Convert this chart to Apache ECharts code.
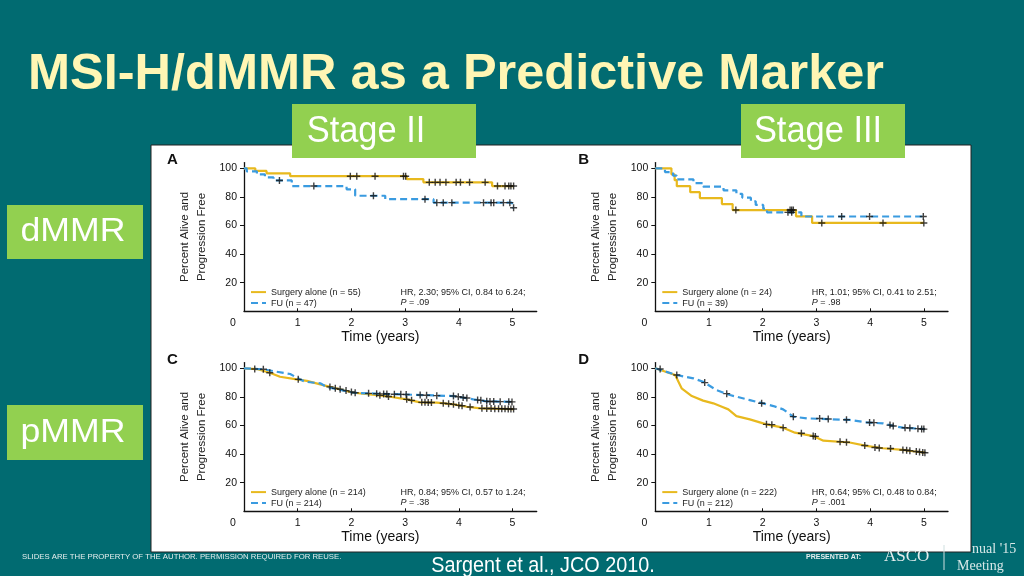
<!DOCTYPE html>
<html><head><meta charset="utf-8">
<script src="https://cdn.jsdelivr.net/npm/echarts@6/dist/echarts.min.js"></script>
<style>html,body{margin:0;padding:0;background:#016b71}#c{width:1024px;height:576px}</style>
</head><body><div id="c"></div>
<script>
// ---------- data ----------
const xTicks = [0, 1, 2, 3, 4, 5];
const yTicks = [20, 40, 60, 80, 100];
const panelLetters = ['A', 'B', 'C', 'D'];
const surgeryNames = ['Surgery alone (n = 55)', 'Surgery alone (n = 24)', 'Surgery alone (n = 214)', 'Surgery alone (n = 222)'];
const fuNames = ['FU (n = 47)', 'FU (n = 39)', 'FU (n = 214)', 'FU (n = 212)'];
const hrTexts = ['HR, 2.30; 95% CI, 0.84 to 6.24;', 'HR, 1.01; 95% CI, 0.41 to 2.51;', 'HR, 0.84; 95% CI, 0.57 to 1.24;', 'HR, 0.64; 95% CI, 0.48 to 0.84;'];
const pTexts = ['.09', '.98', '.38', '.001'];
const stepped = [true, true, false, false];

// Panel A: dMMR, stage II
const A_surgery = [[0,100],[0.21,98.2],[0.42,96.4],[0.86,94.5],[3.03,92.5],[3.34,90.2],[4.62,87.6],[5.02,87.6]];
const A_surgeryCens = [[1.98,94.5],[2.10,94.5],[2.44,94.5],[2.97,94.5],[3.01,94.5],[3.45,90.2],[3.56,90.2],[3.65,90.2],[3.76,90.2],[3.95,90.2],[4.03,90.2],[4.20,90.2],[4.49,90.2],[4.72,87.6],[4.86,87.6],[4.93,87.6],[4.97,87.6],[5.02,87.6]];
const A_fu = [[0,100],[0.05,97.9],[0.24,95.7],[0.39,93.6],[0.55,91.5],[0.89,87.6],[1.91,85.3],[2.07,80.8],[2.63,78.4],[3.53,76.0],[4.99,72.4],[5.02,72.4]];
const A_fuCens = [[0.66,91.5],[1.30,87.6],[2.41,80.8],[3.37,78.4],[3.59,76],[3.71,76],[3.87,76],[4.46,76],[4.60,76],[4.65,76],[4.83,76],[4.95,76],[5.02,72.4]];

// Panel B: dMMR, stage III
const B_surgery = [[0,100],[0.30,95.8],[0.36,91.7],[0.40,87.5],[0.65,83.3],[0.83,79.2],[1.24,75.0],[1.44,70.8],[2.62,66.4],[2.92,61.8],[5.0,61.8]];
const B_surgeryCens = [[1.50,70.8],[2.51,70.8],[2.54,70.8],[2.57,70.8],[3.10,61.8],[4.24,61.8],[5.0,61.8]];
const B_fu = [[0,100],[0.18,97.4],[0.33,94.9],[0.40,92.3],[0.71,89.7],[0.89,87.2],[1.27,84.6],[1.51,82.1],[1.62,79.5],[1.78,76.9],[1.87,74.4],[2.01,71.8],[2.08,69.2],[2.72,66.3],[5.0,66.3]];
const B_fuCens = [[2.47,69.2],[2.54,69.2],[3.47,66.3],[3.99,66.3],[4.99,66.3]];

// Panel C: pMMR, stage II
const C_surgery = [[0,100],[0.24,99.5],[0.48,96.9],[0.67,94.1],[0.98,92.3],[1.17,91.2],[1.42,88.8],[1.60,87],[2.04,82.9],[2.53,81.1],[2.72,80.1],[3.03,78.3],[3.28,76.2],[3.59,76],[3.90,74.8],[4.15,73.1],[4.40,72],[5.02,71.5]];
const C_surgeryCens = [[0.20,99.5],[0.48,96.9],[1.01,92.3],[1.60,87],[1.70,86],[1.79,85.4],[1.90,84.4],[2.00,83.5],[2.07,82.9],[2.53,81.1],[2.69,80.3],[3.03,78.3],[3.12,77.6],[3.31,76.2],[3.37,76.2],[3.43,76.1],[3.49,76.1],[3.71,75.6],[3.81,75.2],[3.90,74.8],[4.00,74.1],[4.06,73.8],[4.21,72.9],[4.43,72.0],[4.52,71.9],[4.60,71.9],[4.67,71.8],[4.74,71.8],[4.80,71.7],[4.86,71.7],[4.92,71.6],[4.97,71.6],[5.02,71.5]];
const C_fu = [[0,100],[0.36,99.3],[0.61,97.6],[0.86,96],[1.04,92.3],[1.14,90.6],[1.42,89.5],[1.54,87],[2.04,82.9],[2.53,82.2],[3.15,81.5],[3.90,80.6],[4.27,78.3],[4.52,76.9],[5.02,76.5]];
const C_fuCens = [[0.36,99.3],[2.32,82.5],[2.47,82.3],[2.60,82.1],[2.66,82.1],[2.80,81.9],[2.92,81.8],[3.02,81.7],[3.28,81.3],[3.40,81.2],[3.59,80.9],[3.90,80.6],[3.99,80.1],[4.08,79.6],[4.15,79.2],[4.35,77.9],[4.41,77.6],[4.52,76.9],[4.58,76.8],[4.65,76.8],[4.77,76.7],[4.93,76.6],[4.99,76.5]];

// Panel D: pMMR, stage III
const D_surgery = [[0,100],[0.37,95.3],[0.49,86],[0.68,80.6],[0.89,77.4],[1.08,75.5],[1.24,73.1],[1.36,71.3],[1.51,66.6],[1.76,64.3],[2.07,60.8],[2.38,58.5],[2.60,55],[2.94,52.6],[3.13,49.4],[3.62,48.1],[3.93,45.8],[4.24,44.1],[4.61,42.9],[4.80,42],[5.02,41]];
const D_surgeryCens = [[0.09,99.5],[2.07,60.8],[2.17,60.6],[2.38,58.5],[2.72,54.6],[2.94,52.6],[2.98,52.4],[3.44,48.6],[3.56,48.3],[3.90,46],[4.09,44.6],[4.17,44.3],[4.38,43.9],[4.61,42.9],[4.68,42.7],[4.74,42.4],[4.86,41.8],[4.92,41.5],[4.98,41.2],[5.02,41]];
const D_fu = [[0,100],[0.40,95.3],[0.71,93],[0.89,90.6],[1.14,84.8],[1.39,81.3],[1.76,77.8],[2.20,73.6],[2.38,71.3],[2.57,66.2],[2.82,65],[3.62,63.9],[3.93,62.2],[4.24,61.5],[4.43,59.7],[4.61,58.5],[5.02,57.5]];
const D_fuCens = [[0.40,95.3],[0.92,90.0],[1.33,82.3],[1.98,75.6],[2.57,66.2],[3.06,64.9],[3.22,64.6],[3.56,64],[3.99,62.1],[4.07,62],[4.37,60.3],[4.43,59.7],[4.65,58.4],[4.74,58.3],[4.89,57.8],[4.96,57.6],[5.0,57.5]];

const surgeryData = [A_surgery, B_surgery, C_surgery, D_surgery];
const surgeryCens = [A_surgeryCens, B_surgeryCens, C_surgeryCens, D_surgeryCens];
const fuData = [A_fu, B_fu, C_fu, D_fu];
const fuCens = [A_fuCens, B_fuCens, C_fuCens, D_fuCens];

// ---------- layout ----------
const YELLOW = '#E8B91E', BLUE = '#3A9BE0', GREEN = '#92D050', BG = '#016b71';
const NARROW = "'Liberation Sans Narrow','Arial Narrow','Liberation Sans',sans-serif";
const SANS = "'Liberation Sans',Arial,sans-serif";
const SERIF = "'Liberation Serif','Times New Roman',serif";
const gridPos = [{left:244, top:162.6}, {left:655.3, top:162.6}, {left:244, top:362.6}, {left:655.3, top:362.6}];
const PLUS = 'path://M4,0H6V4H10V6H6V10H4V6H0V4H4Z';

const grids = [], xAxes = [], yAxes = [], series = [], legends = [], graphics = [];
gridPos.forEach((g, i) => {
  grids.push({left: g.left, top: g.top, width: 292.7, height: 148.7, containLabel: false});
  xAxes.push({
    type: 'value', gridIndex: i, min: 0, max: 5.45,
    axisLine: {lineStyle: {color: '#111', width: 1.3}},
    axisTick: {show: true, inside: true, length: 3, customValues: [1,2,3,4,5], lineStyle: {color: '#111'}},
    axisLabel: {customValues: xTicks, margin: 6, color: '#111', fontSize: 10.5, fontFamily: SANS,
      formatter: v => v === 0 ? '{z|0}' : String(v),
      rich: {z: {padding: [0, 22, 0, 0], fontSize: 10.5, color: '#111', fontFamily: SANS}}},
    splitLine: {show: false},
    name: 'Time (years)', nameLocation: 'middle', nameGap: 19,
    nameTextStyle: {fontSize: 14, color: '#111', fontFamily: SANS, padding: [0, 20, 0, 0]}
  });
  yAxes.push({
    type: 'value', gridIndex: i, min: 0, max: 104,
    axisLine: {show: true, lineStyle: {color: '#111', width: 1.3}},
    axisTick: {show: true, length: 4, customValues: yTicks, lineStyle: {color: '#111'}},
    axisLabel: {customValues: yTicks, margin: 7, color: '#111', fontSize: 10.5, fontFamily: SANS},
    splitLine: {show: false},
    name: 'Percent Alive and\nProgression Free', nameLocation: 'middle', nameRotate: 90, nameGap: 34,
    nameTextStyle: {fontSize: 11.5, lineHeight: 17, color: '#222', fontFamily: NARROW}
  });
  const step = stepped[i] ? 'end' : false;
  series.push({type: 'line', name: surgeryNames[i], xAxisIndex: i, yAxisIndex: i, data: surgeryData[i], step,
    symbol: 'none', lineStyle: {color: YELLOW, width: 2.2}, itemStyle: {color: YELLOW}, z: 2});
  series.push({type: 'line', name: fuNames[i], xAxisIndex: i, yAxisIndex: i, data: fuData[i], step,
    symbol: 'none', lineStyle: {color: BLUE, width: 2.2, type: [7, 4]}, itemStyle: {color: BLUE}, z: 3});
  [surgeryCens[i], fuCens[i]].forEach(c => series.push({type: 'scatter', xAxisIndex: i, yAxisIndex: i, data: c,
    symbol: PLUS, symbolSize: 7, itemStyle: {color: '#111'}, z: 4, silent: true}));
  legends.push({data: [surgeryNames[i], fuNames[i]], orient: 'vertical', left: g.left + 6, top: g.top + 125,
    padding: 0, itemWidth: 15, itemHeight: 8, itemGap: 2, selectedMode: false,
    itemStyle: {opacity: 0},
    textStyle: {fontSize: 9, color: '#222', fontFamily: SANS}});
  const px = g.left + 156.5;
  graphics.push({type: 'text', x: px, y: g.top + 129.5, style: {text: hrTexts[i], fontSize: 9, fill: '#222', fontFamily: SANS, verticalAlign: 'middle'}});
  graphics.push({type: 'text', x: px, y: g.top + 139.5, style: {text: '{i|P} = ' + pTexts[i], fontSize: 9, fill: '#222', fontFamily: SANS, verticalAlign: 'middle',
    rich: {i: {fontStyle: 'italic', fontSize: 9, fontFamily: SANS, fill: '#222'}}}});
  graphics.push({type: 'text', x: g.left - 77, y: g.top - 2.6, style: {text: panelLetters[i], font: 'bold 15px ' + SANS, fill: '#111', verticalAlign: 'middle'}});
});

// slide decoration
graphics.push(
  {type: 'rect', shape: {x: 151, y: 145, width: 820, height: 407}, z: -1, style: {fill: '#fff', stroke: '#222', lineWidth: 1}},
  {type: 'text', x: 955, y: 549, style: {text: "{h|An}nual '15", font: '14px ' + SERIF, fill: '#d8e8e8', verticalAlign: 'middle',
    rich: {h: {fill: 'rgba(0,0,0,0)', font: '14px ' + SERIF}}}},
  {type: 'text', x: 28, y: 75, style: {text: 'MSI-H/dMMR as a Predictive Marker', font: 'bold 50.5px ' + SANS, fill: '#FFF6B4', verticalAlign: 'middle'}},
  {type: 'rect', shape: {x: 292, y: 104, width: 184, height: 54}, z: 100, style: {fill: GREEN}},
  {type: 'text', x: 366, y: 132, z: 101, scaleX: 0.93, style: {text: 'Stage II', font: '37px ' + SANS, fill: '#fff', align: 'center', verticalAlign: 'middle'}},
  {type: 'rect', shape: {x: 741, y: 104, width: 164, height: 54}, z: 100, style: {fill: GREEN}},
  {type: 'text', x: 818, y: 132, z: 101, scaleX: 0.93, style: {text: 'Stage III', font: '37px ' + SANS, fill: '#fff', align: 'center', verticalAlign: 'middle'}},
  {type: 'rect', shape: {x: 7, y: 205, width: 136, height: 54}, z: 100, style: {fill: GREEN}},
  {type: 'text', x: 73, y: 232, z: 101, scaleX: 1.08, style: {text: 'dMMR', font: '33px ' + SANS, fill: '#fff', align: 'center', verticalAlign: 'middle'}},
  {type: 'rect', shape: {x: 7, y: 405, width: 136, height: 55}, z: 100, style: {fill: GREEN}},
  {type: 'text', x: 73, y: 433, z: 101, scaleX: 1.08, style: {text: 'pMMR', font: '33px ' + SANS, fill: '#fff', align: 'center', verticalAlign: 'middle'}},
  {type: 'text', x: 22, y: 557, scaleX: 0.97, style: {text: 'SLIDES ARE THE PROPERTY OF THE AUTHOR. PERMISSION REQUIRED FOR REUSE.', font: '8px ' + SANS, fill: '#e6eeee', verticalAlign: 'middle'}},
  {type: 'text', x: 543, y: 566, scaleX: 0.9, style: {text: 'Sargent et al., JCO 2010.', font: '22px ' + SANS, fill: '#fff', align: 'center', verticalAlign: 'middle'}},
  {type: 'text', x: 806, y: 557, style: {text: 'PRESENTED AT:', font: 'bold 7px ' + SANS, fill: '#e6eeee', verticalAlign: 'middle'}},
  {type: 'text', x: 884, y: 557, style: {text: 'ASCO', font: '17px ' + SERIF, fill: '#e6eeee', verticalAlign: 'middle'}},
  {type: 'line', shape: {x1: 944, y1: 545, x2: 944, y2: 570}, style: {stroke: '#cfe0e0', lineWidth: 1}},
  {type: 'text', x: 957, y: 566, style: {text: 'Meeting', font: '14px ' + SERIF, fill: '#d8e8e8', verticalAlign: 'middle'}}
);

const chart = echarts.init(document.getElementById('c'), null, {renderer: 'canvas'});
chart.setOption({
  backgroundColor: BG, animation: false,
  grid: grids, xAxis: xAxes, yAxis: yAxes, series, legend: legends,
  graphic: {elements: graphics}
});
</script></body></html>
